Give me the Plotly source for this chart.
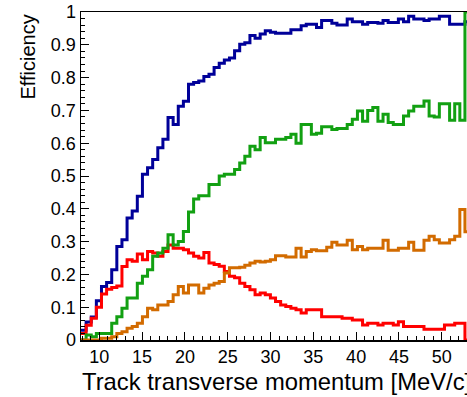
import numpy as np
import plotly.graph_objects as go

# Histogram binning (track transverse momentum, MeV/c)
bin_start = 7.86
bin_width = 0.598

blue = [0.03, 0.055, 0.07, 0.12, 0.163, 0.175, 0.214, 0.285, 0.306, 0.372,
        0.393, 0.438, 0.505, 0.525, 0.55, 0.586, 0.612, 0.678, 0.657, 0.713,
        0.728, 0.78, 0.785, 0.79, 0.803, 0.81, 0.831, 0.844, 0.854, 0.86,
        0.882, 0.902, 0.906, 0.928, 0.92, 0.933, 0.943, 0.938, 0.935, 0.935,
        0.935, 0.946, 0.946, 0.958, 0.963, 0.963, 0.953, 0.974, 0.974, 0.966,
        0.96, 0.96, 0.979, 0.97, 0.97, 0.963, 0.968, 0.968, 0.966, 0.974,
        0.968, 0.968, 0.979, 0.97, 0.987, 0.979, 0.979, 0.974, 0.979, 0.979,
        0.987, 0.987, 0.963, 0.963, 0.963, 0.97]

red = [0.02, 0.045, 0.066, 0.10, 0.14, 0.155, 0.16, 0.165, 0.224, 0.245,
       0.24, 0.262, 0.245, 0.27, 0.265, 0.255, 0.27, 0.29, 0.28, 0.28,
       0.275, 0.265, 0.255, 0.25, 0.267, 0.235, 0.23, 0.225, 0.209, 0.194,
       0.19, 0.173, 0.163, 0.153, 0.138, 0.143, 0.138, 0.128, 0.117, 0.107,
       0.102, 0.097, 0.092, 0.082, 0.092, 0.092, 0.092, 0.071, 0.071, 0.071,
       0.071, 0.066, 0.066, 0.061, 0.061, 0.046, 0.051, 0.051, 0.046, 0.051,
       0.051, 0.046, 0.056, 0.041, 0.041, 0.041, 0.041, 0.033, 0.033, 0.033,
       0.033, 0.046, 0.046, 0.051, 0.051, 0.0]

green = [0.0, 0.015, 0.01, 0.02, 0.02, 0.02, 0.051, 0.071, 0.097, 0.128,
         0.128, 0.173, 0.194, 0.214, 0.255, 0.265, 0.28, 0.321, 0.29, 0.30,
         0.331, 0.39, 0.43, 0.44, 0.44, 0.474, 0.474, 0.5, 0.505, 0.505,
         0.52, 0.54, 0.56, 0.591, 0.58, 0.617, 0.601, 0.601, 0.612, 0.612,
         0.617, 0.627, 0.60, 0.657, 0.657, 0.627, 0.63, 0.65, 0.65, 0.642,
         0.645, 0.645, 0.657, 0.673, 0.698, 0.667, 0.70, 0.709, 0.667, 0.688,
         0.663, 0.657, 0.657, 0.683, 0.698, 0.713, 0.713, 0.729, 0.683, 0.68,
         0.72, 0.72, 0.67, 0.72, 0.67, 1.0]

orange = [0.0, 0.0, 0.0, 0.0, 0.005, 0.005, 0.01, 0.02, 0.025, 0.036,
          0.041, 0.051, 0.071, 0.097, 0.092, 0.107, 0.107, 0.117, 0.138, 0.163,
          0.143, 0.168, 0.168, 0.143, 0.158, 0.168, 0.173, 0.178, 0.204, 0.22,
          0.22, 0.222, 0.228, 0.235, 0.24, 0.238, 0.24, 0.245, 0.257, 0.257,
          0.253, 0.253, 0.28, 0.253, 0.27, 0.275, 0.272, 0.272, 0.283, 0.298,
          0.29, 0.29, 0.304, 0.275, 0.285, 0.275, 0.28, 0.28, 0.28, 0.304,
          0.274, 0.274, 0.28, 0.28, 0.298, 0.274, 0.274, 0.304, 0.316, 0.306,
          0.296, 0.296, 0.306, 0.316, 0.398, 0.33]

x_ticks = [10, 15, 20, 25, 30, 35, 40, 45, 50]
y_ticks = [0, 0.1, 0.2, 0.3, 0.4, 0.5, 0.6, 0.7, 0.8, 0.9, 1]
y_tick_text = ["0", "0.1", "0.2", "0.3", "0.4", "0.5", "0.6", "0.7", "0.8", "0.9", "1"]

x_title = "Track transverse momentum [MeV/c]"
y_title = "Efficiency"

series = [("blue", blue, "#000099"), ("red", red, "#ff0000"),
          ("green", green, "#12a012"), ("orange", orange, "#d26b00")]

n_bins = len(blue)
edges = bin_start + bin_width * np.arange(n_bins + 1)

fig = go.Figure()
for name, vals, col in series:
    yv = list(vals) + [vals[-1]]
    fig.add_trace(go.Scatter(x=edges, y=yv, mode="lines", line_shape="hv",
                             line=dict(color=col, width=3), name=name,
                             showlegend=False, hoverinfo="skip"))

W, H = 467, 397
L, R, T, B = 81, 0, 12, 57
font = "Liberation Sans, Arial, sans-serif"

fig.update_layout(
    width=W, height=H,
    margin=dict(l=L, r=R, t=T, b=B, pad=0),
    paper_bgcolor="white", plot_bgcolor="white",
    font=dict(family=font, color="black", size=18),
    xaxis=dict(range=[7.86, 52.95], tickvals=x_ticks, ticks="inside", ticklen=8,
               tickwidth=1, tickcolor="black", showline=True, linecolor="black",
               linewidth=1.5, mirror=True, showgrid=False, zeroline=False,
               automargin=False, tickfont=dict(size=18),
               minor=dict(dtick=1, ticks="inside", ticklen=4, tickcolor="black", tickwidth=1)),
    yaxis=dict(range=[0, 1.0], tickvals=y_ticks, ticktext=y_tick_text, ticks="inside",
               ticklen=8, tickwidth=1, tickcolor="black", showline=True,
               linecolor="black", linewidth=1.5, showgrid=False, zeroline=False,
               automargin=False, tickfont=dict(size=18),
               minor=dict(dtick=0.02, ticks="inside", ticklen=4, tickcolor="black", tickwidth=1)),
    annotations=[
        dict(text=x_title, xref="paper", yref="paper",
             x=(80 - L) / (W - L - R), y=(340 - 381) / (H - T - B),
             xanchor="left", yanchor="middle", showarrow=False,
             font=dict(size=23.8, family=font, color="black")),
        dict(text=y_title, xref="paper", yref="paper", textangle=-90,
             x=(27 - L) / (W - L - R), y=(340 - 13) / (H - T - B),
             xanchor="center", yanchor="top", showarrow=False,
             font=dict(size=20, family=font, color="black")),
    ],
)

fig.write_html("out.html", config={"displayModeBar": False, "staticPlot": True},
               post_script="document.body.style.margin='0';document.body.style.overflow='hidden';")
